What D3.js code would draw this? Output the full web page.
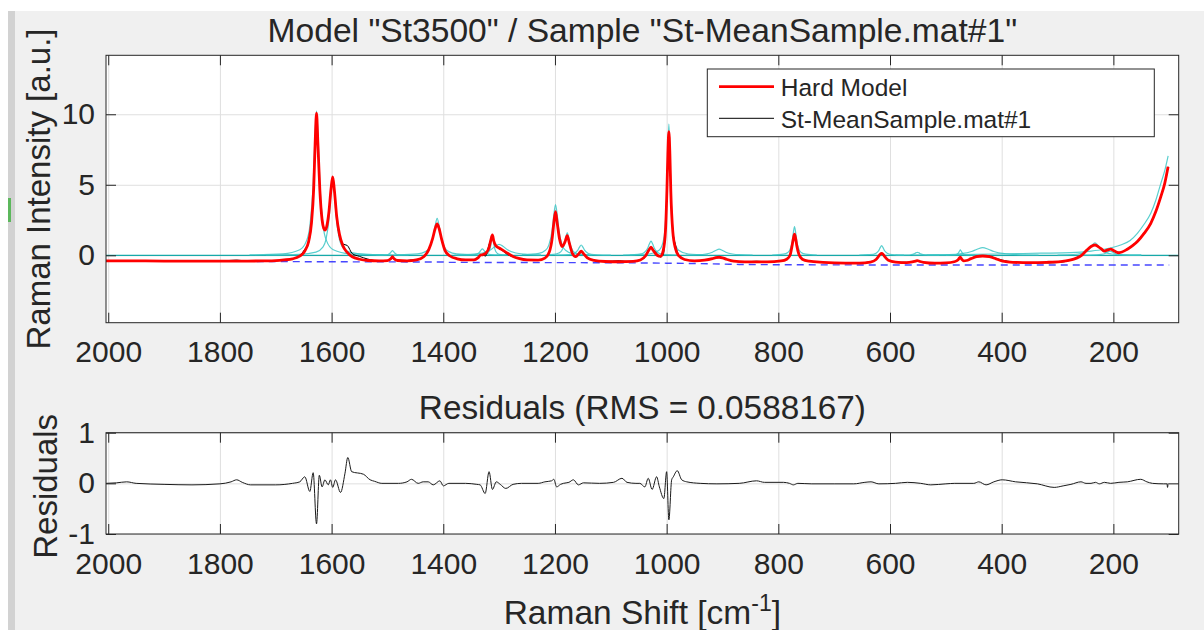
<!DOCTYPE html>
<html><head><meta charset="utf-8">
<script src="https://cdn.jsdelivr.net/npm/d3@7"></script>
<style>
body{margin:0;background:#fff;}
svg{display:block;}
text{font-family:"Liberation Sans",Arial,Helvetica,sans-serif;fill:#262626;}
</style>
</head><body>
<svg id="c" width="1204" height="630"></svg>
<script>
// ---------------- DATA ----------------
const titleText = 'Model "St3500" / Sample "St-MeanSample.mat#1"';
const residualTitle = "Residuals (RMS = 0.0588167)";
const legendLabels = ["Hard Model", "St-MeanSample.mat#1"];
const xTicks = [2000, 1800, 1600, 1400, 1200, 1000, 800, 600, 400, 200];
const yTicksTop = [0, 5, 10];
const yTicksRes = [-1, 0, 1];
const xDomain = [2004, 83];
const yDomainTop = [-4.78, 14.18];
const yDomainRes = [-1, 1];

// hard model [shift, intensity]
const hardModel = [
[2004,-0.40],[1950,-0.40],[1900,-0.41],[1850,-0.41],[1800,-0.41],[1750,-0.41],[1720,-0.40],[1700,-0.38],[1685,-0.33],[1670,-0.25],[1658,-0.08],[1648,0.3],[1641,1.0],[1636,2.3],[1632,4.8],[1629.5,7.9],[1627,10.07],[1624.5,7.9],[1621,4.6],[1617,2.5],[1614,1.9],[1612,1.79],[1609,2.0],[1605,3.0],[1601,4.7],[1598,5.55],[1595,4.6],[1591,2.8],[1586,1.5],[1580,0.7],[1572,0.2],[1563,-0.1],[1550,-0.28],[1535,-0.37],[1515,-0.40],[1500,-0.38],[1494,-0.25],[1491,-0.1],[1488,-0.25],[1482,-0.37],[1465,-0.40],[1448,-0.33],[1435,-0.1],[1426,0.4],[1419,1.2],[1414.5,1.9],[1411,2.22],[1407.5,1.9],[1403,1.15],[1397,0.35],[1388,-0.05],[1375,-0.25],[1360,-0.33],[1345,-0.32],[1338,-0.18],[1333,0.02],[1329,0.05],[1324,0.15],[1318,0.55],[1315,1.05],[1312,1.44],[1309.5,1.0],[1306,0.68],[1300,0.52],[1293,0.35],[1285,0.15],[1275,-0.08],[1265,-0.22],[1250,-0.33],[1230,-0.34],[1218,-0.2],[1210,0.25],[1205,1.2],[1202,2.3],[1199,3.09],[1196,2.3],[1192,1.2],[1187,0.62],[1182,0.95],[1178,1.39],[1174.5,0.9],[1169,0.15],[1163,-0.1],[1157,0.12],[1153,0.3],[1149,0.12],[1142,-0.18],[1130,-0.36],[1110,-0.44],[1085,-0.46],[1060,-0.43],[1047,-0.33],[1038,-0.05],[1032,0.35],[1028,0.57],[1024,0.35],[1017,0.0],[1011,-0.08],[1006,0.35],[1002,1.8],[999.5,4.6],[997.8,7.2],[996,8.77],[994.2,7.2],[992.5,4.5],[989,1.7],[984,0.45],[978,-0.05],[968,-0.3],[950,-0.4],[932,-0.35],[918,-0.24],[912,-0.17],[906,-0.14],[900,-0.18],[893,-0.28],[880,-0.42],[860,-0.47],[820,-0.47],[795,-0.4],[785,-0.28],[779,0.0],[775,0.75],[773,1.2],[771,1.49],[769,1.2],[767,0.7],[763,0.05],[757,-0.28],[745,-0.42],[720,-0.5],[680,-0.55],[655,-0.55],[635,-0.48],[625,-0.3],[620,-0.05],[617.5,0.08],[615,0.14],[612.5,0.08],[609,-0.12],[603,-0.35],[590,-0.48],[570,-0.52],[560,-0.47],[554,-0.41],[551,-0.38],[547,-0.43],[540,-0.5],[520,-0.56],[500,-0.54],[485,-0.46],[478,-0.32],[475.5,-0.18],[474,-0.14],[472,-0.25],[468,-0.4],[463,-0.37],[455,-0.24],[445,-0.1],[434,-0.05],[422,-0.1],[410,-0.25],[398,-0.42],[380,-0.5],[350,-0.52],[320,-0.5],[295,-0.45],[278,-0.35],[266,-0.2],[257,0.0],[248,0.35],[240,0.62],[233,0.73],[226,0.58],[220,0.4],[216.6,0.3],[210,0.38],[205,0.43],[198,0.3],[190,0.18],[175,0.43],[165,0.7],[157,0.97],[145,1.55],[133,2.27],[124,3.1],[115,4.16],[108,5.1],[102,6.28]
];

// measured sample spectrum [shift, intensity]
const sampleSpectrum = [
[2004,-0.40],[1950,-0.39],[1900,-0.42],[1850,-0.43],[1800,-0.41],[1770,-0.34],[1750,-0.42],[1720,-0.43],[1700,-0.40],[1685,-0.33],[1670,-0.25],[1658,-0.06],[1648,0.43],[1641,0.9],[1636,2.4],[1632,5.0],[1629.5,7.6],[1627,9.3],[1624.5,7.8],[1621,4.7],[1617,2.45],[1614,1.95],[1612,1.86],[1609,2.0],[1605,3.0],[1601,4.75],[1598,5.47],[1595,4.65],[1591,2.75],[1586,1.35],[1580,0.8],[1572,0.7],[1563,0.12],[1550,-0.08],[1535,-0.27],[1515,-0.40],[1500,-0.38],[1494,-0.25],[1491,-0.1],[1488,-0.25],[1482,-0.37],[1465,-0.38],[1457,-0.32],[1448,-0.33],[1435,-0.08],[1426,0.4],[1419,1.17],[1414.5,1.9],[1411,2.22],[1407.5,1.93],[1403,1.12],[1397,0.35],[1388,-0.05],[1375,-0.25],[1360,-0.33],[1345,-0.32],[1338,-0.2],[1333,0.0],[1329,0.0],[1324,-0.05],[1318,0.78],[1315,1.05],[1312,1.32],[1309.5,1.0],[1306,0.7],[1300,0.5],[1293,0.3],[1285,0.05],[1275,-0.1],[1265,-0.22],[1250,-0.33],[1230,-0.34],[1218,-0.17],[1210,0.27],[1205,1.25],[1202,2.38],[1199,3.09],[1196,2.23],[1192,1.18],[1187,0.62],[1182,0.95],[1178,1.41],[1174.5,0.92],[1169,0.2],[1163,-0.13],[1157,0.12],[1153,0.31],[1149,0.12],[1142,-0.18],[1130,-0.36],[1110,-0.44],[1085,-0.38],[1075,-0.42],[1060,-0.43],[1047,-0.33],[1038,-0.12],[1032,0.45],[1028,0.5],[1024,0.4],[1017,0.1],[1011,-0.12],[1006,0.05],[1002,2.0],[999.5,4.6],[997.8,7.0],[996,8.05],[994.2,7.1],[992.5,4.55],[989,1.8],[984,0.7],[978,0.0],[968,-0.28],[950,-0.4],[932,-0.35],[918,-0.24],[912,-0.17],[906,-0.14],[900,-0.18],[893,-0.28],[880,-0.42],[860,-0.47],[839,-0.42],[820,-0.47],[795,-0.4],[785,-0.28],[779,0.0],[775,0.72],[773,1.2],[771,1.49],[769,1.2],[767,0.7],[763,0.05],[757,-0.28],[745,-0.42],[720,-0.5],[680,-0.55],[655,-0.55],[635,-0.45],[625,-0.3],[620,-0.06],[617.5,0.08],[615,0.14],[612.5,0.08],[609,-0.12],[603,-0.35],[590,-0.48],[570,-0.5],[560,-0.47],[554,-0.41],[551,-0.38],[547,-0.43],[540,-0.5],[520,-0.59],[500,-0.55],[485,-0.46],[478,-0.32],[475.5,-0.18],[474,-0.14],[472,-0.25],[468,-0.4],[463,-0.37],[455,-0.24],[445,-0.07],[434,-0.08],[422,-0.07],[410,-0.23],[398,-0.35],[380,-0.47],[350,-0.52],[320,-0.54],[306,-0.53],[295,-0.5],[278,-0.37],[266,-0.2],[257,0.03],[248,0.35],[240,0.62],[233,0.75],[226,0.57],[220,0.42],[216.6,0.32],[210,0.38],[205,0.43],[198,0.32],[190,0.2],[175,0.46],[165,0.75],[157,1.02],[145,1.6],[133,2.27],[124,3.1],[115,4.16],[108,5.1],[104,5.8],[102,6.28]
];

// fitted baseline
const baseline = [
[1734,-0.44],[1600,-0.46],[1400,-0.48],[1390,-0.50],[1200,-0.52],[1100,-0.53],[1000,-0.56],[900,-0.62],[870,-0.65],[700,-0.68],[500,-0.69],[300,-0.69],[100,-0.69]
];

// individual hard-model components
const components = [
[[1747,0.03],[1687,0.1],[1657,0.39],[1645,1.02],[1639,2.05],[1633,5.12],[1630,8.18],[1627,10.23],[1624,8.18],[1621,5.12],[1615,2.05],[1609,1.02],[1597,0.39],[1567,0.1],[1507,0.03]],
[[1718,0.02],[1658,0.06],[1628,0.22],[1616,0.56],[1610,1.12],[1604,2.8],[1601,4.48],[1598,5.6],[1595,4.48],[1592,2.8],[1586,1.12],[1580,0.56],[1568,0.22],[1538,0.06],[1478,0.02]],
[[1520,0.02],[1503,0.03],[1499,0.06],[1495,0.16],[1493,0.26],[1491,0.33],[1489,0.26],[1487,0.16],[1483,0.06],[1479,0.03],[1462,0.02]],
[[1481,0.03],[1446,0.1],[1432,0.26],[1425,0.52],[1418,1.31],[1414.5,2.1],[1411,2.62],[1407.5,2.1],[1404,1.31],[1397,0.52],[1390,0.26],[1376,0.1],[1341,0.03]],
[[1380,0.02],[1345,0.05],[1340,0.09],[1335,0.22],[1332.5,0.36],[1330,0.45],[1327.5,0.36],[1325,0.22],[1320,0.09],[1315,0.05],[1280,0.02]],
[[1342,0.02],[1324,0.07],[1318,0.27],[1315,0.68],[1313.5,1.08],[1312,1.35],[1310.5,1.08],[1309,0.68],[1306,0.27],[1300,0.07],[1282,0.02]],
[[1375,0.03],[1345,0.08],[1330,0.16],[1315,0.39],[1307.5,0.62],[1300,0.78],[1292.5,0.62],[1285,0.39],[1270,0.16],[1255,0.08],[1225,0.03]],
[[1259,0.04],[1229,0.14],[1217,0.36],[1211,0.72],[1205,1.8],[1202,2.88],[1199,3.6],[1196,2.88],[1193,1.8],[1187,0.72],[1181,0.36],[1169,0.14],[1139,0.04]],
[[1213,0.03],[1203,0.06],[1193,0.16],[1188,0.32],[1183,0.8],[1180.5,1.28],[1178,1.6],[1175.5,1.28],[1173,0.8],[1168,0.32],[1163,0.16],[1153,0.06],[1133,0.02]],
[[1200,0.02],[1183,0.03],[1171,0.07],[1165,0.15],[1159,0.37],[1156,0.58],[1153,0.73],[1150,0.58],[1147,0.37],[1141,0.15],[1135,0.07],[1123,0.03],[1100,0.01]],
[[1078,0.02],[1058,0.04],[1046,0.1],[1040,0.2],[1034,0.5],[1031,0.8],[1028,1.0],[1025,0.8],[1022,0.5],[1016,0.2],[1010,0.1],[998,0.04],[978,0.02]],
[[1066,0.02],[1031,0.09],[1013.5,0.36],[1006.5,0.93],[1003,1.86],[999.5,4.66],[997.75,7.45],[996,9.31],[994.25,7.45],[992.5,4.66],[989,1.86],[985.5,0.93],[978.5,0.36],[961,0.09],[926,0.02]],
[[966,0.02],[942,0.04],[930,0.09],[918,0.22],[912,0.34],[906,0.43],[900,0.34],[894,0.22],[882,0.09],[870,0.04],[846,0.02]],
[[811,0.02],[791,0.08],[783,0.2],[779,0.41],[775,1.02],[773,1.62],[771,2.03],[769,1.62],[767,1.02],[763,0.41],[759,0.2],[751,0.08],[731,0.02]],
[[655,0.02],[640,0.05],[630,0.07],[625,0.14],[620,0.34],[617.5,0.54],[615,0.68],[612.5,0.54],[610,0.34],[605,0.14],[600,0.07],[590,0.03],[575,0.01]],
[[590,0.01],[569,0.02],[563,0.04],[557,0.1],[554,0.17],[551,0.21],[548,0.17],[545,0.1],[539,0.04],[533,0.02],[512,0.01]],
[[500,0.01],[489,0.02],[483,0.04],[480,0.08],[477,0.19],[475.5,0.3],[474,0.38],[472.5,0.3],[471,0.19],[468,0.08],[465,0.04],[459,0.02],[448,0.01]],
[[534,0.02],[494,0.05],[474,0.11],[454,0.27],[444,0.43],[434,0.54],[424,0.43],[414,0.27],[394,0.11],[374,0.05],[334,0.02]],
[[300,0.02],[283,0.03],[263,0.09],[253,0.18],[243,0.45],[238,0.71],[233,0.89],[228,0.71],[223,0.45],[213,0.18],[203,0.09],[183,0.03],[150,0.01]],
[[260,0.01],[230,0.03],[222,0.06],[214,0.15],[210,0.24],[206,0.3],[202,0.24],[198,0.15],[190,0.06],[182,0.03],[150,0.01]],
[[560,0.02],[480,0.05],[400,0.1],[330,0.15],[276,0.19],[240,0.3],[217,0.43],[187,0.73],[170,1.05],[157,1.56],[145,2.2],[133,2.98],[124,3.9],[115,5.1],[108,6.0],[102,7.04]]
];

// residuals [shift, residual]
const residuals = [
[2004,0.0],[1985,0.01],[1967,0.03],[1950,0.0],[1900,-0.02],[1850,-0.03],[1800,-0.01],[1780,0.03],[1770,0.07],[1760,0.02],[1745,-0.03],[1700,-0.03],[1670,0.0],[1657,0.03],[1648,0.13],[1639,-0.16],[1633,0.21],[1627,-0.8],[1622,0.16],[1617,-0.07],[1612,0.07],[1606,-0.03],[1602,0.07],[1598,-0.08],[1593,0.07],[1584,-0.18],[1576,0.2],[1571,0.51],[1564,0.23],[1543,0.18],[1531,0.07],[1523,0.04],[1510,0.0],[1480,0.0],[1465,0.03],[1457,0.08],[1445,0.0],[1436,0.03],[1427,0.03],[1418,-0.03],[1406,0.05],[1400,-0.05],[1390,0.0],[1360,0.0],[1340,-0.02],[1334,-0.03],[1325,-0.2],[1318,0.23],[1312,-0.12],[1305,0.03],[1298,-0.02],[1288,-0.1],[1275,-0.02],[1260,0.0],[1230,0.0],[1218,0.03],[1206,0.05],[1202,0.08],[1197,-0.07],[1190,-0.02],[1185,0.0],[1175,0.02],[1167,0.07],[1158,-0.03],[1149,0.01],[1120,0.0],[1095,0.02],[1080,0.1],[1071,0.02],[1055,0.0],[1048,0.0],[1039,-0.07],[1033,0.1],[1026,-0.12],[1018,0.13],[1013,-0.07],[1005,-0.3],[1000,0.23],[996,-0.72],[991,0.07],[988,0.13],[981,0.25],[973,0.07],[964,0.03],[940,0.0],[910,-0.01],[870,0.0],[839,0.05],[825,0.02],[791,0.02],[780,0.0],[773,-0.03],[765,0.0],[740,-0.01],[700,-0.01],[665,-0.01],[645,0.02],[634,0.03],[620,-0.01],[590,0.0],[569,0.02],[545,0.0],[527,-0.03],[500,-0.01],[484,0.0],[450,0.0],[441,0.03],[428,-0.03],[414,0.03],[399,0.07],[375,0.03],[336,-0.01],[306,-0.08],[290,-0.05],[276,-0.02],[258,0.03],[249,0.0],[240,0.0],[232,0.02],[225,-0.01],[216,0.02],[205,0.0],[190,0.02],[175,0.03],[151,0.08],[140,0.03],[130,0.0],[110,-0.01],[104,-0.01],[103,-0.08],[102,0.0]
];

// ---------------- DRAWING ----------------
const FONT = '"Liberation Sans", Arial, Helvetica, sans-serif';
const AX = "#262626";
const svg = d3.select("#c");

// figure background
svg.append("rect").attr("width", 1204).attr("height", 630).attr("fill", "#ffffff");
svg.append("rect").attr("x", 15).attr("y", 11).attr("width", 1189).attr("height", 619).attr("fill", "#f0f0f0");
svg.append("rect").attr("x", 8).attr("y", 11).attr("width", 7).attr("height", 619).attr("fill", "#d2d2d2");
svg.append("rect").attr("x", 8).attr("y", 198).attr("width", 3).attr("height", 24).attr("fill", "#5cb85c");

const L = 106, R = 1178.7;
const top1 = 55.3, bot1 = 322.7;
const top2 = 432.7, bot2 = 534;

const x = d3.scaleLinear().domain(xDomain).range([L, R]);
const yT = d3.scaleLinear().domain(yDomainTop).range([bot1, top1]);
const yR = d3.scaleLinear().domain(yDomainRes).range([bot2, top2]);

function frame(y, yTicks, t, b, clipId) {
  const g = svg.append("g");
  g.append("rect").attr("x", L).attr("y", t).attr("width", R - L).attr("height", b - t).attr("fill", "#fff");
  const gx = g.append("g").attr("transform", `translate(0,${b})`)
    .call(d3.axisBottom(x).tickValues(xTicks).tickSize(-(b - t)).tickFormat(""));
  gx.select(".domain").remove();
  gx.selectAll("line").attr("stroke", "#dfdfdf").attr("stroke-width", 1);
  const gy = g.append("g").attr("transform", `translate(${L},0)`)
    .call(d3.axisLeft(y).tickValues(yTicks).tickSize(-(R - L)).tickFormat(""));
  gy.select(".domain").remove();
  gy.selectAll("line").attr("stroke", "#dfdfdf").attr("stroke-width", 1);
  svg.append("clipPath").attr("id", clipId).append("rect")
    .attr("x", L).attr("y", t).attr("width", R - L).attr("height", b - t);
  return g;
}

function decorate(y, yTicks, t, b) {
  const g = svg.append("g");
  const style = sel => {
    sel.select(".domain").remove();
    sel.attr("font-size", 30).attr("font-family", FONT).attr("color", AX);
    sel.selectAll("line").attr("stroke", AX).attr("stroke-width", 1);
  };
  g.append("g").attr("transform", `translate(0,${b})`)
    .call(d3.axisBottom(x).tickValues(xTicks).tickSizeInner(-10).tickSizeOuter(0).tickPadding(18.5).tickFormat(d => String(d)))
    .call(style);
  g.append("g").attr("transform", `translate(0,${t})`)
    .call(d3.axisTop(x).tickValues(xTicks).tickSizeInner(-10).tickSizeOuter(0).tickFormat(""))
    .call(style);
  g.append("g").attr("transform", `translate(${L},0)`)
    .call(d3.axisLeft(y).tickValues(yTicks).tickSizeInner(-10).tickSizeOuter(0).tickPadding(11).tickFormat(d => String(d)))
    .call(style);
  g.append("g").attr("transform", `translate(${R},0)`)
    .call(d3.axisRight(y).tickValues(yTicks).tickSizeInner(-10).tickSizeOuter(0).tickFormat(""))
    .call(style);
  g.append("rect").attr("x", L).attr("y", t).attr("width", R - L).attr("height", b - t)
    .attr("fill", "none").attr("stroke", AX).attr("stroke-width", 1);
}

// ---- top panel ----
frame(yT, yTicksTop, top1, bot1, "clipTop");
const dataTop = svg.append("g").attr("clip-path", "url(#clipTop)");
const lineT = d3.line().x(d => x(d[0])).y(d => yT(d[1])).curve(d3.curveMonotoneX);

dataTop.append("path").attr("d", lineT([[xDomain[0], 0], [xDomain[1], 0]]))
  .attr("fill", "none").attr("stroke", "#17a9a9").attr("stroke-width", 1.3);
dataTop.selectAll("path.comp").data(components).join("path").attr("class", "comp")
  .attr("d", lineT).attr("fill", "none").attr("stroke", "#3cc6c6")
  .attr("stroke-opacity", 0.85).attr("stroke-width", 1.2);
dataTop.append("path").attr("d", lineT(baseline)).attr("fill", "none")
  .attr("stroke", "#2626ff").attr("stroke-opacity", 0.85).attr("stroke-width", 1.4).attr("stroke-dasharray", "7,5");
dataTop.append("path").attr("d", lineT(sampleSpectrum)).attr("fill", "none")
  .attr("stroke", "#000").attr("stroke-width", 1);
dataTop.append("path").attr("d", lineT(hardModel)).attr("fill", "none")
  .attr("stroke", "#ff0000").attr("stroke-width", 2.8).attr("stroke-linejoin", "round");

decorate(yT, yTicksTop, top1, bot1);

// legend
const lg = svg.append("g");
lg.append("rect").attr("x", 707.3).attr("y", 69).attr("width", 447).attr("height", 67.7)
  .attr("fill", "#fff").attr("stroke", AX).attr("stroke-width", 1);
const legendStyles = [{c: "#ff0000", w: 2.8, y: 86.7}, {c: "#000000", w: 1, y: 118.3}];
legendLabels.forEach((lab, i) => {
  const s = legendStyles[i];
  lg.append("line").attr("x1", 719).attr("x2", 774).attr("y1", s.y).attr("y2", s.y)
    .attr("stroke", s.c).attr("stroke-width", s.w);
  lg.append("text").attr("x", 780.7).attr("y", s.y + 9.3).attr("font-size", 24.5).text(lab);
});

// titles and labels
svg.append("text").attr("x", (L + R) / 2).attr("y", 42).attr("text-anchor", "middle")
  .attr("font-size", 33.6).text(titleText);
svg.append("text").attr("transform", `translate(50,${(top1 + bot1) / 2}) rotate(-90)`)
  .attr("text-anchor", "middle").attr("font-size", 33).text("Raman Intensity [a.u.]");

// ---- residual panel ----
frame(yR, yTicksRes, top2, bot2, "clipRes");
const dataRes = svg.append("g").attr("clip-path", "url(#clipRes)");
const lineR = d3.line().x(d => x(d[0])).y(d => yR(d[1])).curve(d3.curveMonotoneX);
dataRes.append("path").attr("d", lineR(residuals)).attr("fill", "none")
  .attr("stroke", "#1a1a1a").attr("stroke-width", 1);
decorate(yR, yTicksRes, top2, bot2);

svg.append("text").attr("x", (L + R) / 2).attr("y", 419).attr("text-anchor", "middle")
  .attr("font-size", 33.3).text(residualTitle);
svg.append("text").attr("transform", `translate(57,${(top2 + bot2) / 2 + 3}) rotate(-90)`)
  .attr("text-anchor", "middle").attr("font-size", 33).text("Residuals");

const xl = svg.append("text").attr("x", (L + R) / 2).attr("y", 624).attr("text-anchor", "middle")
  .attr("font-size", 33.5);
xl.append("tspan").text("Raman Shift [cm");
xl.append("tspan").attr("font-size", 23).attr("dy", -13).text("-1");
xl.append("tspan").attr("dy", 13).text("]");
</script>
</body></html>
